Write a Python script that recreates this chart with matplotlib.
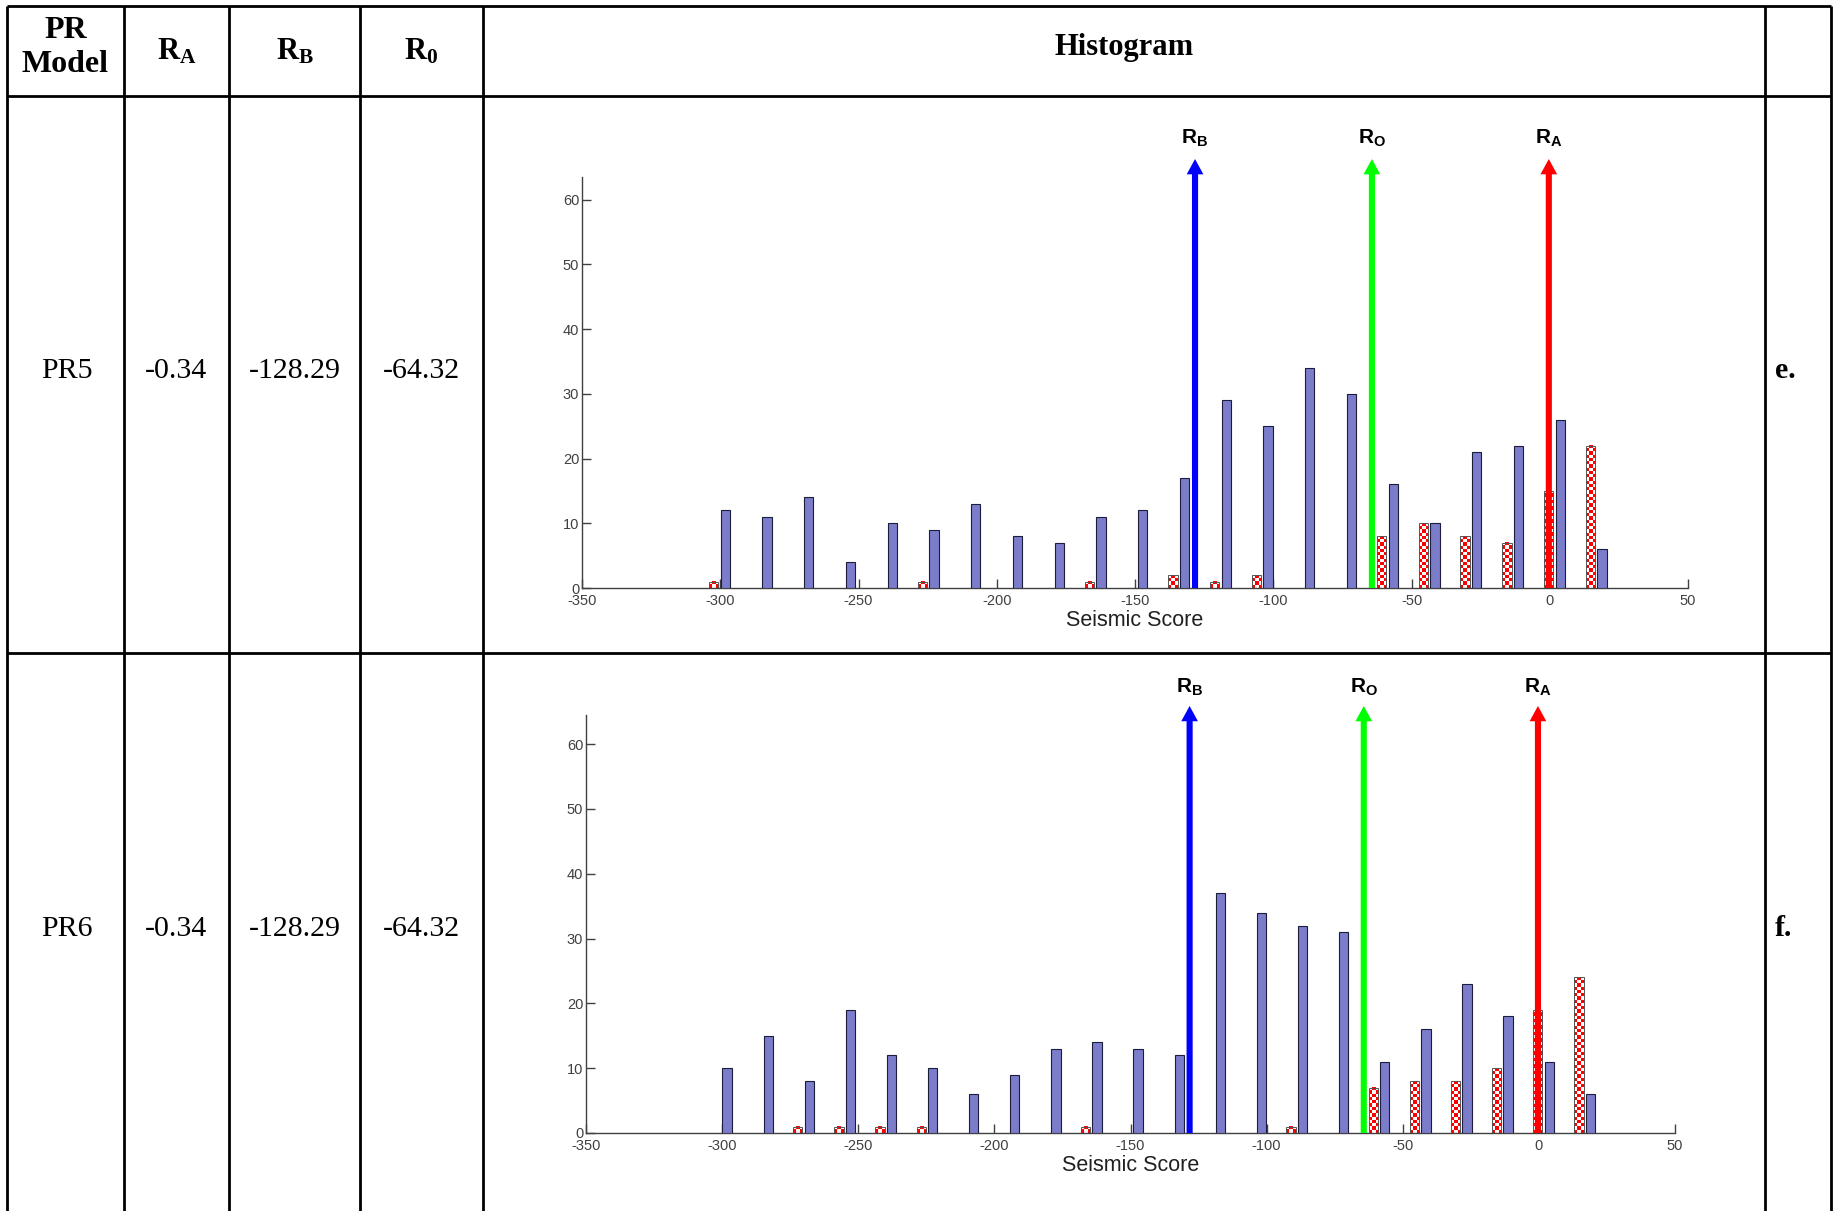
import numpy as np
import matplotlib.pyplot as plt
from matplotlib.colors import ListedColormap

plt.rcParams['font.family'] = 'Liberation Sans'
plt.rcParams['axes.unicode_minus'] = False
plt.rcParams['mathtext.fontset'] = 'custom'
plt.rcParams['mathtext.rm'] = 'Liberation Serif'
plt.rcParams['mathtext.bf'] = 'Liberation Serif:bold'
plt.rcParams['mathtext.sf'] = 'Liberation Sans:bold'

W, H = 1834, 1211

# histogram bins (seismic score)
bin_centers = [-300.3, -285.2, -270.1, -255.0, -239.9, -224.8, -209.7, -194.6,
               -179.5, -164.4, -149.3, -134.2, -119.1, -104.0, -88.9, -73.8,
               -58.7, -43.6, -28.5, -13.4, 1.7, 16.8]

# PR5 counts
pr5_blue = [12, 11, 14, 4, 10, 9, 13, 8, 7, 11, 12, 17, 29, 25, 34, 30, 16, 10, 21, 22, 26, 6]
pr5_red = [1, 0, 0, 0, 0, 1, 0, 0, 0, 1, 0, 2, 1, 2, 0, 0, 8, 10, 8, 7, 15, 22]
# PR6 counts
pr6_blue = [10, 15, 8, 19, 12, 10, 6, 9, 13, 14, 13, 12, 37, 34, 32, 31, 11, 16, 23, 18, 11, 6]
pr6_red = [0, 0, 1, 1, 1, 1, 0, 0, 0, 1, 0, 0, 0, 0, 1, 0, 7, 8, 8, 10, 19, 24]

models = ['PR5', 'PR6']
tags = ['e.', 'f.']
r_a = [-0.34, -0.34]
r_b = [-128.29, -128.29]
r_0 = [-64.32, -64.32]
blue_counts = [pr5_blue, pr6_blue]
red_counts = [pr5_red, pr6_red]

xticks = [-350, -300, -250, -200, -150, -100, -50, 0, 50]
yticks = [0, 10, 20, 30, 40, 50, 60]

fig = plt.figure(figsize=(W / 100, H / 100), dpi=100)

# ---- table grid ----
tab = fig.add_axes([0, 0, 1, 1])
tab.set_xlim(0, W)
tab.set_ylim(H, 0)
tab.axis('off')
col_x = [7, 124, 229, 360, 483, 1765, 1831]
row_y = [6, 96, 653]
for x in col_x:
    tab.plot([x, x], [row_y[0], H], color='black', lw=2.0, solid_capstyle='butt')
for y in row_y:
    tab.plot([col_x[0], col_x[-1]], [y, y], color='black', lw=2.0, solid_capstyle='butt')

serif = 'Liberation Serif'
tab.text(65.5, 30, 'PR', fontsize=23, fontweight='bold', family=serif, ha='center', va='center')
tab.text(65.5, 64, 'Model', fontsize=23, fontweight='bold', family=serif, ha='center', va='center')
tab.text(176.5, 52, r'$\mathbf{R_A}$', fontsize=22, ha='center', va='center')
tab.text(294.5, 52, r'$\mathbf{R_B}$', fontsize=22, ha='center', va='center')
tab.text(421.5, 52, r'$\mathbf{R_0}$', fontsize=22, ha='center', va='center')
tab.text(1124, 48, 'Histogram', fontsize=22, fontweight='bold', family=serif, ha='center', va='center')

row_text_y = [371, 929]
for i in range(2):
    y = row_text_y[i]
    tab.text(67, y, models[i], fontsize=21.5, family=serif, ha='center', va='center')
    tab.text(176.5, y, '%.2f' % r_a[i], fontsize=21.5, family=serif, ha='center', va='center')
    tab.text(294.5, y, '%.2f' % r_b[i], fontsize=21.5, family=serif, ha='center', va='center')
    tab.text(421.5, y, '%.2f' % r_0[i], fontsize=21.5, family=serif, ha='center', va='center')
    tab.text(1775, y, tags[i], fontsize=21.5, fontweight='bold', family=serif, ha='left', va='center')

# ---- histograms ----
# (left, right, y0, ytop, px per count) in pixels
boxes = [(582, 1688, 588, 63.5, 6.47), (586, 1675, 1133, 64.5, 6.48)]
tip_y = [66.3, 65.9]
lab_y = [69.5, 68.7]

checker = ListedColormap(['white', '#ff0000'])
bw = 3.4
off = 2.1

for i in range(2):
    left, right, y0, ytop, ppc = boxes[i]
    top = y0 - ytop * ppc
    ax = fig.add_axes([left / W, 1 - y0 / H, (right - left) / W, (y0 - top) / H])
    ax.patch.set_alpha(0)

    xb = [c + off for c in bin_centers]
    ax.bar(xb, blue_counts[i], width=bw, color='#7b7dcb', edgecolor='#1c1c3c', linewidth=0.8, zorder=3)

    for c, n in zip(bin_centers, red_counts[i]):
        if n <= 0:
            continue
        x0 = c - off - bw / 2
        nr = int(round(n * 2))
        pat = np.add.outer(np.arange(nr), np.arange(3)) % 2
        ax.imshow(pat, extent=[x0, x0 + bw, 0, n], cmap=checker, aspect='auto',
                  interpolation='nearest', zorder=2, vmin=0, vmax=1)
    xr = [c - off for c in bin_centers]
    ax.bar(xr, red_counts[i], width=bw, color='none', edgecolor='#555555', linewidth=0.7, zorder=3)

    arrows = [(r_b[i], '#0000ff', r'$\mathsf{R_B}$'),
              (r_0[i], '#00ff00', r'$\mathsf{R_O}$'),
              (r_a[i], '#ff0000', r'$\mathsf{R_A}$')]
    for xv, col, lab in arrows:
        ax.annotate('', xy=(xv, tip_y[i]), xytext=(xv, 0),
                    arrowprops=dict(arrowstyle='simple,head_length=0.55,head_width=0.6,tail_width=0.22',
                                    mutation_scale=20, fc=col, ec='none', lw=0,
                                    shrinkA=0, shrinkB=0),
                    annotation_clip=False, zorder=6)
        ax.text(xv, lab_y[i], lab, fontsize=15, ha='center', va='center', clip_on=False)

    ax.set_xlim(-350, 50)
    ax.set_ylim(0, ytop)
    ax.set_xticks(xticks)
    ax.set_yticks(yticks)
    for s in ['top', 'right']:
        ax.spines[s].set_visible(False)
    for s in ['left', 'bottom']:
        ax.spines[s].set_color('#404040')
        ax.spines[s].set_linewidth(1.0)
    ax.tick_params(direction='in', length=6.5, width=1, color='#404040',
                   labelsize=10.5, labelcolor='#404040')
    ax.tick_params(axis='x', pad=4.5)
    ax.tick_params(axis='y', pad=2)
    ax.set_xlabel('Seismic Score', fontsize=15.5, color='#202020', labelpad=1)

fig.savefig('out.png', dpi=100)
